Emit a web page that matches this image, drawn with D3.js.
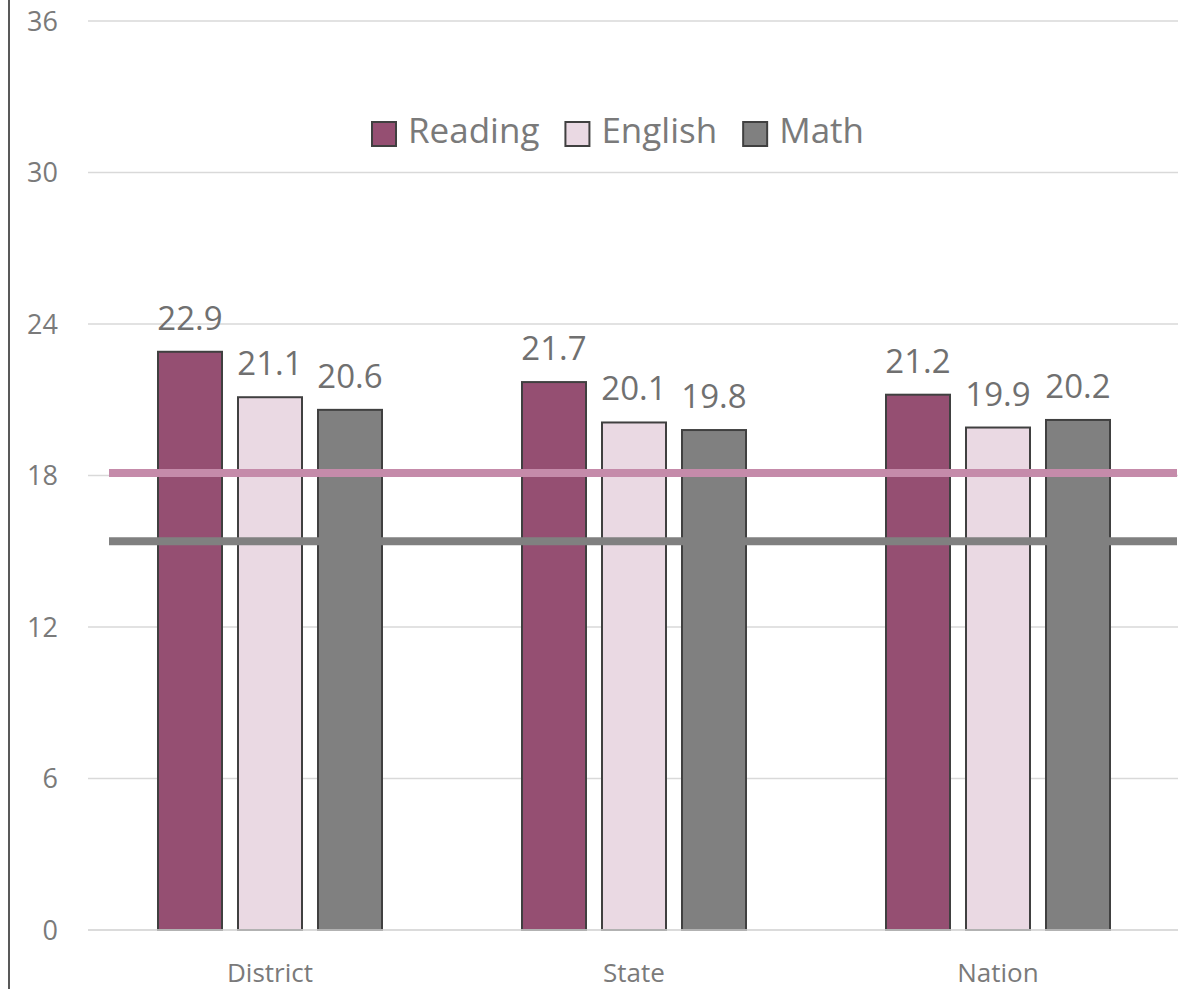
<!DOCTYPE html>
<html>
<head>
<meta charset="utf-8">
<script src="https://cdn.jsdelivr.net/npm/d3@7"></script>
<style>
  body { margin: 0; background: #fff; }
  svg { display: block; font-family: 'Open Sans', sans-serif; }
</style>
</head>
<body>
<svg></svg>
<script>
// data
let categories = ['District', 'State', 'Nation']
let series = ['Reading', 'English', 'Math']
let reading = [22.9, 21.7, 21.2]
let english = [21.1, 20.1, 19.9]
let math = [20.6, 19.8, 20.2]
let yTicks = [0, 6, 12, 18, 24, 30, 36]
let benchmarks = [15.4, 18.1]   // math line, english line

let colors = {Reading: '#954F72', English: '#EAD9E3', Math: '#808080'}
let lineColors = ['#808080', '#C58BAA']

let width = 1185,
    height = 989

let svg = d3.select('svg').attr('width', width).attr('height', height)

let values = {Reading: reading, English: english, Math: math}
let rows = categories.map((c, i) => ({
  cat: c,
  vals: series.map(s => ({key: s, value: values[s][i]}))
}))

let x0 = d3.scaleBand().domain(categories).range([88, 1180])
let x1 = d3.scaleBand().domain(series).range([0, 224]).paddingInner(0.2)
let y = d3.scaleLinear().domain([0, 36]).range([930, 21])

// left border
svg.append('line')
  .attr('x1', 9).attr('x2', 9).attr('y1', 0).attr('y2', height)
  .attr('stroke', '#595959').attr('stroke-width', 2)

// gridlines + y labels
let yAxis = svg.append('g').attr('class', 'y-axis')
yAxis.selectAll('line')
  .data(yTicks)
  .enter()
  .append('line')
  .attr('x1', 88).attr('x2', 1178)
  .attr('y1', d => y(d)).attr('y2', d => y(d))
  .attr('stroke', '#D9D9D9').attr('stroke-width', 1.5)
yAxis.selectAll('text')
  .data(yTicks)
  .enter()
  .append('text')
  .attr('x', 58)
  .attr('y', d => y(d))
  .attr('dy', '0.36em')
  .attr('text-anchor', 'end')
  .attr('font-size', 27)
  .attr('fill', '#7a7a7a')
  .text(d => d)

// bars
let groups = svg.selectAll('.group')
  .data(rows)
  .enter()
  .append('g')
  .attr('class', 'group')
  .attr('transform', d => `translate(${x0(d.cat) + x0.bandwidth() / 2 - 112},0)`)

groups.selectAll('rect')
  .data(d => d.vals)
  .enter()
  .append('rect')
  .attr('x', d => x1(d.key))
  .attr('y', d => y(d.value))
  .attr('width', x1.bandwidth())
  .attr('height', d => y(0) - y(d.value))
  .attr('fill', d => colors[d.key])
  .attr('stroke', '#404040')
  .attr('stroke-width', 2)

groups.selectAll('text')
  .data(d => d.vals)
  .enter()
  .append('text')
  .attr('x', d => x1(d.key) + x1.bandwidth() / 2)
  .attr('y', d => y(d.value) - 22)
  .attr('text-anchor', 'middle')
  .attr('font-size', 33)
  .attr('fill', '#707070')
  .text(d => d.value.toFixed(1))

// baseline redraw over bars
svg.append('line')
  .attr('x1', 88).attr('x2', 1178)
  .attr('y1', y(0)).attr('y2', y(0))
  .attr('stroke', '#D9D9D9').attr('stroke-width', 1.5)

// benchmark lines
svg.selectAll('.bench')
  .data(benchmarks)
  .enter()
  .append('line')
  .attr('class', 'bench')
  .attr('x1', 109).attr('x2', 1177)
  .attr('y1', d => y(d)).attr('y2', d => y(d))
  .attr('stroke', (d, i) => lineColors[i])
  .attr('stroke-width', 8)

// category labels
svg.selectAll('.cat')
  .data(categories)
  .enter()
  .append('text')
  .attr('class', 'cat')
  .attr('x', d => x0(d) + x0.bandwidth() / 2)
  .attr('y', 982)
  .attr('text-anchor', 'middle')
  .attr('font-size', 26)
  .attr('fill', '#7a7a7a')
  .text(d => d)

// legend
let legend = svg.append('g').attr('class', 'legend')
let lx = 371
series.forEach(s => {
  let item = legend.append('g').attr('transform', `translate(${lx},0)`)
  item.append('rect')
    .attr('x', 1).attr('y', 122).attr('width', 24).attr('height', 24)
    .attr('fill', colors[s]).attr('stroke', '#404040').attr('stroke-width', 2)
  let t = item.append('text')
    .attr('x', 37).attr('y', 143)
    .attr('font-size', 35)
    .attr('fill', '#7a7a7a')
    .text(s)
  lx += 37 + t.node().getComputedTextLength() + 25
})
</script>
</body>
</html>
